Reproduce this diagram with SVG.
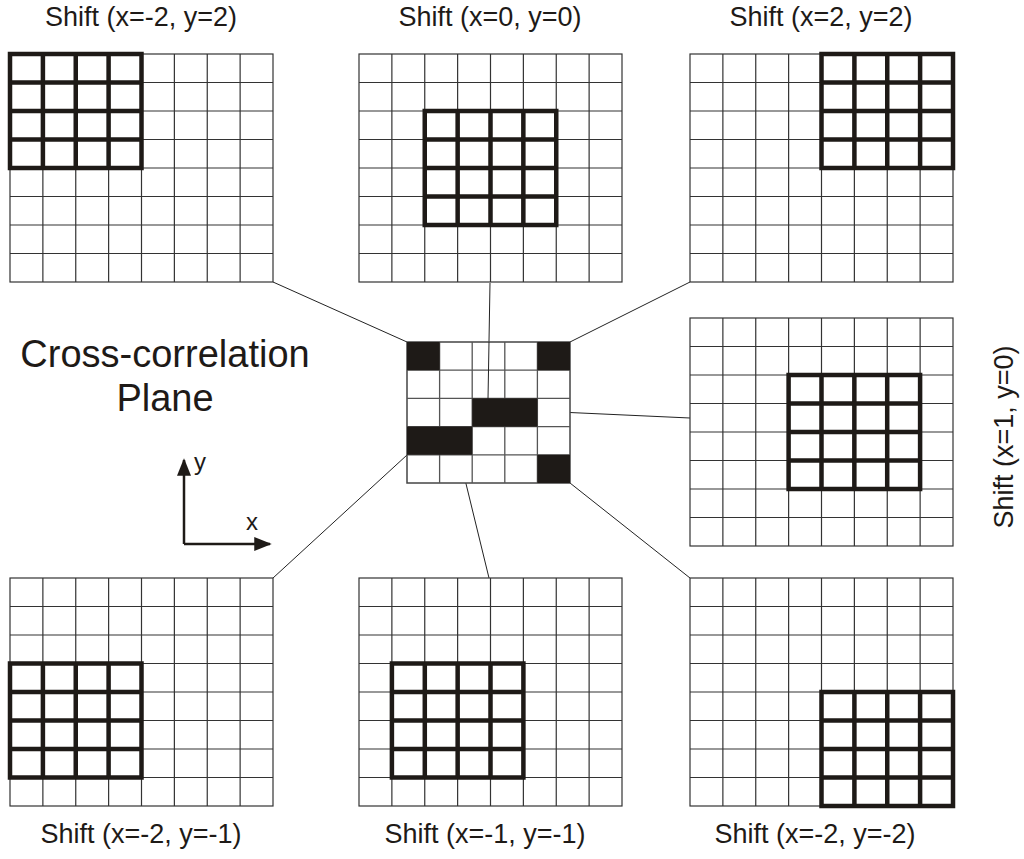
<svg xmlns="http://www.w3.org/2000/svg" width="1024" height="859" viewBox="0 0 1024 859">
<style>
.t{stroke:#1e1a17;stroke-width:4.5;fill:none}
.c{stroke:#222;stroke-width:1;fill:none}
text{font-family:"Liberation Sans",Arial,sans-serif;fill:#1e1a17}
.l{font-size:27px;text-anchor:middle}
</style>
<defs>
<g id="grid">
<rect width="263" height="228" fill="#fff" stroke="#333" stroke-width="1.2"/>
<path d="M32.875 0V228M65.75 0V228M98.625 0V228M131.5 0V228M164.375 0V228M197.25 0V228M230.125 0V228M0 28.5H263M0 57H263M0 85.5H263M0 114H263M0 142.5H263M0 171H263M0 199.5H263" stroke="#333" stroke-width="1.2" fill="none"/>
</g>
<g id="thick">
<rect width="131.5" height="114" class="t"/>
<path class="t" d="M32.9 0V114M65.75 0V114M98.6 0V114M0 28.5H131.5M0 57H131.5M0 85.5H131.5"/>
</g>
<marker id="a" viewBox="0 0 10 10" refX="9" refY="5" markerWidth="7" markerHeight="7" orient="auto"><path d="M0 1L10 5L0 9z" fill="#1e1a17"/></marker>
</defs>
<rect width="1024" height="859" fill="#fff"/>
<g id="connectors" class="c">
<line x1="273" y1="282" x2="407" y2="342"/>
<line x1="490" y1="283" x2="488" y2="399"/>
<line x1="690" y1="282" x2="570" y2="342"/>
<line x1="537" y1="411" x2="690" y2="418"/>
<line x1="273" y1="578" x2="407" y2="455"/>
<line x1="459" y1="455" x2="489" y2="578"/>
<line x1="690" y1="578" x2="570" y2="483"/>
</g>
<g id="grid-tl"><use href="#grid" x="10" y="54"/><use href="#thick" x="10" y="54"/></g>
<g id="grid-tc"><use href="#grid" x="359" y="54"/><use href="#thick" x="424.75" y="111"/></g>
<g id="grid-tr"><use href="#grid" x="690" y="54"/><use href="#thick" x="821.5" y="54"/></g>
<g id="grid-mr"><use href="#grid" x="690" y="318"/><use href="#thick" x="788.6" y="375"/></g>
<g id="grid-bl"><use href="#grid" x="10" y="578"/><use href="#thick" x="10" y="663.5"/></g>
<g id="grid-bc"><use href="#grid" x="359" y="578"/><use href="#thick" x="391.9" y="663.5"/></g>
<g id="grid-br"><use href="#grid" x="690" y="578"/><use href="#thick" x="821.5" y="692"/></g>
<g id="plane">
<rect x="407" y="342" width="163" height="141" fill="#fff" stroke="#444" stroke-width="1.5"/>
<path d="M439.6 342V483M472.2 342V483M504.8 342V483M537.4 342V483M407 370.2H570M407 398.4H570M407 426.6H570M407 454.8H570" stroke="#555" stroke-width="1.3"/>
<line x1="489" y1="342" x2="488" y2="399" stroke="#222" stroke-width="1"/>
<g fill="#1e1a17">
<rect x="407" y="342" width="32.6" height="28.2"/>
<rect x="537.4" y="342" width="32.6" height="28.2"/>
<rect x="472.2" y="398.4" width="65.2" height="28.2"/>
<rect x="407" y="426.6" width="65.2" height="28.2"/>
<rect x="537.4" y="454.8" width="32.6" height="28.2"/>
</g>
</g>
<g id="labels">
<text class="l" x="141" y="26">Shift (x=-2, y=2)</text>
<text class="l" x="490" y="26">Shift (x=0, y=0)</text>
<text class="l" x="821" y="26">Shift (x=2, y=2)</text>
<text class="l" x="141" y="843">Shift (x=-2, y=-1)</text>
<text class="l" x="485" y="843">Shift (x=-1, y=-1)</text>
<text class="l" x="815" y="843">Shift (x=-2, y=-2)</text>
<text class="l" transform="translate(1013 437) rotate(-90)">Shift (x=1, y=0)</text>
<text x="165" y="367" font-size="38" text-anchor="middle">Cross-correlation</text>
<text x="165" y="411" font-size="38" text-anchor="middle">Plane</text>
</g>
<g id="axes">
<path d="M184 544V460" stroke="#1e1a17" stroke-width="2.5" marker-end="url(#a)"/>
<path d="M184 544H270" stroke="#1e1a17" stroke-width="2.5" marker-end="url(#a)"/>
<text x="194" y="470" font-size="24">y</text>
<text x="246" y="530" font-size="24">x</text>
</g>
</svg>
